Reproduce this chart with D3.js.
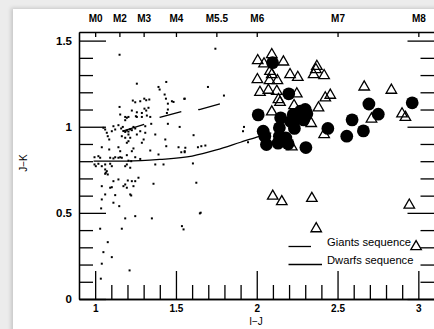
<!DOCTYPE html>
<html>
<head>
<meta charset="utf-8">
<script src="https://cdn.jsdelivr.net/npm/d3@7"></script>
<style>
  html, body { margin: 0; padding: 0; background: #ececec; overflow: hidden; }
  #sheet { position: absolute; left: 13px; top: 9px; width: 430px; height: 330px; background: #fff;
           box-shadow: -2px -1px 4px rgba(0,0,0,0.16); }
  #chart { position: absolute; left: 0; top: 0; }
  text { font-family: "Liberation Sans", Arial, sans-serif; fill: #000; }
</style>
</head>
<body>
<div id="sheet"></div>
<div id="chart"></div>
<script>
// spectral types on the top axis
const spectralTypes = ['M0', 'M2', 'M3', 'M4', 'M5.5', 'M6', 'M7', 'M8'];
const spectralIJ = [1.0, 1.15, 1.30, 1.50, 1.75, 2.0, 2.5, 3.0];
const xTicks = [1, 1.5, 2, 2.5, 3];
const yTicks = [0, 0.5, 1, 1.5];

// sequences
const giantsIJ = [1.17, 1.31, 1.40, 1.54, 1.645, 1.78];
const giantsJK = [0.975, 1.015, 1.055, 1.09, 1.10, 1.135];
const dwarfsIJ = [0.99, 1.2, 1.4, 1.6, 1.75, 1.9, 2.0, 2.09];
const dwarfsJK = [0.80, 0.80, 0.81, 0.83, 0.865, 0.91, 0.94, 0.965];

// field stars (small dots)  [I-J, J-K]
const fieldDots = [
  [1.151,1.418],[1.258,1.250],[1.440,1.260],[1.392,1.231],[1.399,1.216],[1.430,1.187],[1.438,1.163],
  [1.475,1.148],[1.485,1.144],[1.554,1.163],[1.450,1.134],[1.233,1.152],[1.248,1.142],[1.279,1.148],
  [1.304,1.163],[1.316,1.154],[1.335,1.158],[1.151,1.115],[1.227,1.094],[1.258,1.084],[1.305,1.105],
  [1.316,1.094],[1.330,1.110],[1.289,1.080],[1.155,1.071],[1.186,1.057],[1.196,1.052],[1.206,1.057],
  [1.186,1.038],[1.252,1.061],[1.258,1.057],[1.289,1.057],[1.320,1.065],[1.341,1.057],[1.450,1.100],
  [1.444,1.080],[1.347,1.017],[1.450,1.017],[1.113,1.003],[1.144,1.009],[1.171,0.999],[1.051,0.994],
  [1.310,1.003],[1.523,0.999],
  [1.062,0.984],[1.072,0.965],[1.078,0.945],[1.087,0.926],[1.103,0.974],[1.124,0.984],[1.161,0.990],
  [1.175,0.975],[1.186,0.970],[1.196,0.978],[1.206,0.972],[1.216,0.985],[1.227,0.980],[1.237,0.999],
  [1.248,0.990],[1.165,0.945],[1.186,0.936],[1.206,0.955],[1.217,0.936],[1.196,0.907],[1.206,0.916],
  [1.258,0.955],[1.279,0.974],[1.310,0.965],[1.300,0.926],[1.372,0.955],[1.434,0.926],
  [1.516,0.881],[1.558,0.878],[1.554,0.858],[1.440,0.887],[1.392,0.839],[1.341,0.862],[1.289,0.907],
  [1.144,0.881],[1.041,0.881],[1.087,0.868],[1.155,0.858],[1.227,0.858],[1.237,0.874],[1.196,0.835],
  [0.996,0.823],[1.020,0.829],[1.031,0.820],[1.093,0.820],[1.113,0.816],[1.124,0.823],[1.144,0.820],
  [1.155,0.823],[1.165,0.820],[1.206,0.803],[1.223,0.800],[1.248,0.823],[1.279,0.813],
  [0.996,0.781],[1.004,0.771],[1.020,0.785],[1.041,0.771],[1.062,0.781],[1.093,0.785],[1.103,0.771],
  [1.062,0.752],[1.072,0.742],[1.066,0.733],[1.078,0.723],[1.062,0.727],[1.186,0.771],[1.217,0.762],
  [1.196,0.781],[1.372,0.781],[1.423,0.781],[1.268,0.704],[1.248,0.684],[1.144,0.694],[1.113,0.684],
  [1.041,0.655],[1.093,0.646],[1.103,0.649],[1.175,0.655],[1.196,0.646],[1.186,0.665],[1.237,0.655],
  [1.227,0.684],[1.202,0.688],[1.361,0.669],[1.062,0.607],[1.124,0.603],[1.217,0.607],[1.223,0.601],
  [1.041,0.578],[1.113,0.559],[1.149,0.539],[1.037,0.526],[1.186,0.468],[1.248,0.481],[1.351,0.468],
  [1.031,0.408],[1.165,0.408],[1.078,0.330],[1.051,0.272],[1.103,0.243],[1.041,0.205],[1.213,0.166],
  [1.035,0.118],[1.537,0.423],[1.547,0.404],[1.648,0.497],[1.626,0.675],
  [1.744,1.453],[1.698,1.231],[1.797,1.181],[1.552,1.162],[1.921,0.999],[1.915,0.974],[1.609,0.951],
  [1.636,0.881],[1.657,0.887],[1.682,0.891],[1.533,0.852],[1.554,0.852],[1.946,0.910],[1.605,0.787],
  [1.653,0.501]
];

// open triangles
const triangleStars = [
  [2.093,1.419],[2.006,1.384],[2.045,1.365],[2.165,1.376],[2.082,1.322],[2.093,1.303],[2.004,1.274],
  [2.079,1.268],[2.128,1.268],[2.206,1.303],[2.254,1.287],[2.372,1.351],[2.366,1.332],[2.352,1.303],
  [2.417,1.297],[2.020,1.200],[2.072,1.212],[2.124,1.206],[2.248,1.191],[2.134,1.158],[2.144,1.142],
  [2.424,1.168],[2.455,1.183],[2.665,1.231],[2.833,1.212],[2.231,1.123],[2.093,1.086],[2.382,1.110],
  [2.899,1.075],[2.920,1.055],[2.710,1.045],[2.337,1.019],[2.417,0.955],[2.217,0.883],
  [2.099,0.597],[2.155,0.565],[2.341,0.584],[2.368,0.408],[2.944,0.545],[2.986,0.304]
];

// filled circles
const circleStars = [
  [2.098,1.372],[2.198,1.191],[2.009,1.069],[2.148,1.052],[2.226,1.071],[2.270,1.090],[2.300,1.100],
  [2.310,1.075],[2.210,1.030],[2.250,1.050],[2.290,1.040],[2.140,0.994],[2.233,0.990],[2.040,0.974],
  [2.050,0.945],[2.140,0.945],[2.180,0.935],[2.060,0.897],[2.132,0.905],[2.194,0.901],[2.304,0.879],
  [2.440,0.990],[2.557,0.945],[2.660,0.976],[2.590,1.040],[2.694,1.132],[2.752,1.073],[2.962,1.139]
];

const W = 434, H = 329;
const DASH = '22.5 17';

const svg = d3.select('#chart').append('svg')
  .attr('width', W)
  .attr('height', H);

const x = d3.scaleLinear().domain([0.9, 3.1]).range([79, 434.5]);
const y = d3.scaleLinear().domain([0, 1.55]).range([299, 32]);

const minorX = d3.range(10, 31).map(d => d / 10).filter(d => !xTicks.includes(d));
const minorY = d3.range(1, 16).map(d => d / 10).filter(d => !yTicks.some(t => Math.abs(t - d) < 1e-9));

function styleAxis(g, size) {
  g.selectAll('path, line').attr('stroke', '#000').attr('stroke-width', 1.3);
  g.selectAll('text').attr('font-size', size || 10).attr('font-weight', 'bold').attr('fill', '#000')
    .style('font-family', '"Liberation Sans", Arial, sans-serif');
}

// bottom axis: long major ticks, short minor ticks, both pointing inward
svg.append('g').attr('transform', `translate(0,${y(0)})`)
  .call(d3.axisBottom(x).tickValues(minorX).tickSize(-14).tickSizeOuter(0).tickFormat(''))
  .call(styleAxis);
svg.append('g').attr('transform', `translate(0,${y(0)})`)
  .call(d3.axisBottom(x).tickValues(xTicks).tickSize(-28).tickSizeOuter(0).tickPadding(6).tickFormat(d3.format('')))
  .call(styleAxis, 10);

// left axis
svg.append('g').attr('transform', `translate(${x(0.9)},0)`)
  .call(d3.axisLeft(y).tickValues(minorY).tickSize(-14).tickSizeOuter(0).tickFormat(''))
  .call(styleAxis);
svg.append('g').attr('transform', `translate(${x(0.9)},0)`)
  .call(d3.axisLeft(y).tickValues(yTicks).tickSize(-27).tickSizeOuter(0).tickPadding(7).tickFormat(d3.format('')))
  .call(styleAxis, 11.5);

// right axis (ticks only, frame sits on the image edge)
svg.append('g').attr('transform', `translate(${x(3.1)},0)`)
  .call(d3.axisRight(y).tickValues(minorY).tickSize(-14).tickSizeOuter(0).tickFormat(''))
  .call(styleAxis);
svg.append('g').attr('transform', `translate(${x(3.1)},0)`)
  .call(d3.axisRight(y).tickValues(yTicks).tickSize(-27).tickSizeOuter(0).tickFormat(''))
  .call(styleAxis);

// top axis with spectral types
svg.append('g').attr('transform', `translate(0,${y(1.55)})`)
  .call(d3.axisTop(x).tickValues(spectralIJ).tickSize(-5).tickSizeOuter(0).tickPadding(10)
    .tickFormat((d, i) => spectralTypes[i]))
  .call(styleAxis, 10);

// axis titles
svg.append('text')
  .attr('x', 256).attr('y', 325)
  .attr('text-anchor', 'middle')
  .attr('font-size', 10)
  .text('I\u2212J');
svg.append('text')
  .attr('transform', 'translate(27,163) rotate(-90)')
  .attr('text-anchor', 'middle')
  .attr('font-size', 10)
  .text('J\u2212K');

// field dots
svg.append('g').selectAll('rect')
  .data(fieldDots)
  .join('rect')
  .attr('x', d => x(d[0]) - 1)
  .attr('y', d => y(d[1]) - 1)
  .attr('width', 2)
  .attr('height', 2)
  .attr('fill', '#000');

// sequences
const seqLine = d3.line().x(d => x(d[0])).y(d => y(d[1]));
svg.append('path')
  .attr('d', seqLine(d3.zip(giantsIJ, giantsJK)))
  .attr('fill', 'none').attr('stroke', '#000').attr('stroke-width', 1.3)
  .attr('stroke-dasharray', DASH);
svg.append('path')
  .attr('d', d3.line().curve(d3.curveMonotoneX).x(d => x(d[0])).y(d => y(d[1]))(d3.zip(dwarfsIJ, dwarfsJK)))
  .attr('fill', 'none').attr('stroke', '#000').attr('stroke-width', 1.3);

// open triangles
svg.append('g').selectAll('path')
  .data(triangleStars)
  .join('path')
  .attr('d', d3.symbol(d3.symbolTriangle, 48))
  .attr('transform', d => `translate(${x(d[0])},${y(d[1])})`)
  .attr('fill', 'none')
  .attr('stroke', '#000')
  .attr('stroke-width', 1.3);

// filled circles
svg.append('g').selectAll('circle')
  .data(circleStars)
  .join('circle')
  .attr('cx', d => x(d[0]))
  .attr('cy', d => y(d[1]))
  .attr('r', 6.4)
  .attr('fill', '#000');

// legend
const legend = svg.append('g');
legend.append('line')
  .attr('x1', 288.5).attr('x2', 322).attr('y1', 246.5).attr('y2', 246.5)
  .attr('stroke', '#000').attr('stroke-width', 1.3).attr('stroke-dasharray', DASH);
legend.append('line')
  .attr('x1', 288.5).attr('x2', 322).attr('y1', 264.5).attr('y2', 264.5)
  .attr('stroke', '#000').attr('stroke-width', 1.3);
legend.append('text').attr('x', 327).attr('y', 246).attr('font-size', 11.2).text('Giants sequence');
legend.append('text').attr('x', 327).attr('y', 263.5).attr('font-size', 11.2).text('Dwarfs sequence');
</script>
</body>
</html>
